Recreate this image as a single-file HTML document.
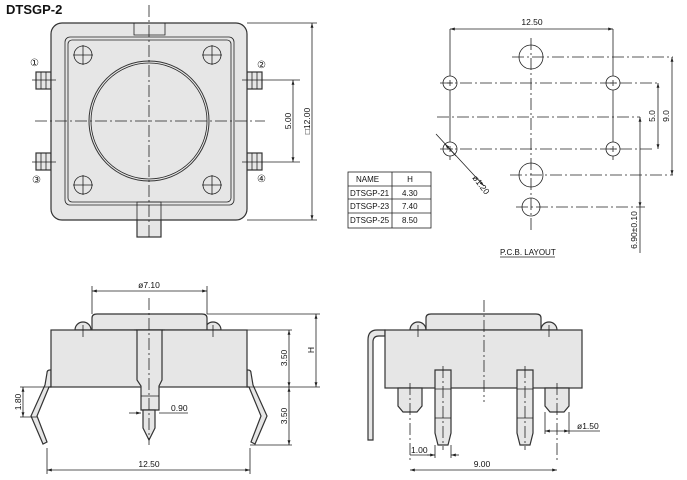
<!DOCTYPE html>
<html><head><meta charset="utf-8"><style>
html,body{margin:0;padding:0;background:#fff}
svg{display:block}
text{font-family:"Liberation Sans",sans-serif;fill:#111}
.b{fill:#e6e6e6;stroke:#333;stroke-width:1.2}
.l{fill:none;stroke:#222;stroke-width:0.8}
.c{fill:none;stroke:#222;stroke-width:0.8;stroke-dasharray:12,3,2,3}
.d{fill:none;stroke:#333;stroke-width:0.7;stroke-dasharray:4,3}
.s{font-size:8.5px}
</style></head><body>
<svg width="687" height="480" viewBox="0 0 687 480" xmlns="http://www.w3.org/2000/svg">
<defs>
<marker id="a" viewBox="0 0 10 10" refX="10" refY="5" markerWidth="6" markerHeight="6" orient="auto-start-reverse"><path d="M0,2L10,5L0,8z" fill="#222"/></marker>
</defs>
<text x="6" y="14" font-size="13" font-weight="bold">DTSGP-2</text>

<!-- TOP VIEW -->
<rect class="b" x="137" y="218" width="24" height="19"/>
<rect class="b" x="36" y="72" width="15" height="17"/><rect class="b" x="36" y="153" width="15" height="17"/>
<rect class="b" x="247" y="72" width="15" height="17"/><rect class="b" x="247" y="153" width="15" height="17"/>
<rect class="b" x="51" y="23" width="196" height="197" rx="11"/>
<path class="l" d="M134,23V35H165V23M137,220V202H161V220"/>
<rect class="l" x="65" y="37" width="169" height="168" rx="5" fill="none"/>
<rect class="l" x="68" y="40" width="163" height="162" rx="4" fill="none"/>
<circle cx="149" cy="121" r="60" fill="#e6e6e6" stroke="#333" stroke-width="1"/>
<circle cx="149" cy="121" r="58" class="l"/>
<g class="l">
<circle cx="83" cy="55" r="9"/><circle cx="212" cy="55" r="9"/><circle cx="83" cy="185" r="9"/><circle cx="212" cy="185" r="9"/>
<path d="M73,55h20M83,45v20M202,55h20M212,45v20M73,185h20M83,175v20M202,185h20M212,175v20"/>
<path d="M32,80h24M32,162h24M242,80h58M242,162h58M41,72v17M46,72v17M41,153v17M46,153v17M252,72v17M257,72v17M252,153v17M257,153v17"/>
<path d="M247,23h70M247,220h70"/>
</g>
<path class="c" d="M149,5V240M35,121H265"/>
<line class="l" x1="293" y1="80" x2="293" y2="162" marker-start="url(#a)" marker-end="url(#a)"/>
<line class="l" x1="312" y1="23" x2="312" y2="220" marker-start="url(#a)" marker-end="url(#a)"/>
<text class="s" transform="translate(291,121) rotate(-90)" text-anchor="middle">5.00</text>
<text class="s" transform="translate(310,121) rotate(-90)" text-anchor="middle">□12.00</text>
<text x="30" y="66" font-size="10">①</text><text x="257" y="68" font-size="10">②</text>
<text x="32" y="183" font-size="10">③</text><text x="257" y="182" font-size="10">④</text>

<!-- PCB LAYOUT -->
<g class="l">
<path d="M450,29V160M613,29V160"/>
<circle cx="450" cy="83" r="7" fill="#fff"/><circle cx="613" cy="83" r="7" fill="#fff"/>
<circle cx="450" cy="149" r="7" fill="#fff"/><circle cx="613" cy="149" r="7" fill="#fff"/>
<circle cx="531" cy="57" r="12"/><circle cx="531" cy="175" r="12"/><circle cx="531" cy="207" r="9"/>
<path d="M447,83h6M450,80v6M610,83h6M613,80v6M447,149h6M450,146v6M610,149h6M613,146v6"/>
</g>
<path class="c" d="M512,57H673M440,83H660M437,117H640M440,149H655M510,175H673M516,207H645M531,38V230"/>
<line class="l" x1="450" y1="29" x2="613" y2="29" marker-start="url(#a)" marker-end="url(#a)"/>
<text class="s" x="532" y="25" text-anchor="middle">12.50</text>
<line class="l" x1="658" y1="83" x2="658" y2="149" marker-start="url(#a)" marker-end="url(#a)"/>
<line class="l" x1="672" y1="57" x2="672" y2="175" marker-start="url(#a)" marker-end="url(#a)"/>
<line class="l" x1="640" y1="117" x2="640" y2="207" marker-start="url(#a)" marker-end="url(#a)"/>
<line class="l" x1="640" y1="207" x2="640" y2="253"/>
<text class="s" transform="translate(655,116) rotate(-90)" text-anchor="middle">5.0</text>
<text class="s" transform="translate(669,116) rotate(-90)" text-anchor="middle">9.0</text>
<text class="s" transform="translate(637,230) rotate(-90)" text-anchor="middle">6.90±0.10</text>
<line class="l" x1="436" y1="134" x2="484" y2="186" marker-end="url(#a)"/>
<line class="l" x1="456" y1="156" x2="445" y2="144" marker-end="url(#a)"/>
<text class="s" transform="translate(472,178) rotate(52)">ø1.20</text>
<g class="l" stroke-width="1">
<rect x="348" y="172" width="83" height="56"/>
<path d="M392,172V228M348,186H431M348,199H431M348,213H431"/>
</g>
<g font-size="8" font-family="Liberation Sans">
<text x="356" y="182">NAME</text><text x="410" y="182" text-anchor="middle">H</text>
<text x="350" y="196">DTSGP-21</text><text x="402" y="196">4.30</text>
<text x="350" y="209">DTSGP-23</text><text x="402" y="209">7.40</text>
<text x="350" y="223">DTSGP-25</text><text x="402" y="223">8.50</text>
</g>
<text x="500" y="255" font-size="8">P.C.B.  LAYOUT</text>
<line class="l" x1="500" y1="257" x2="555" y2="257"/>

<!-- FRONT VIEW -->
<g class="b">
<path d="M47,373Q47,370 50,370H51V387H49L37,416L47,442L43,444L31,416L45,385z"/>
<path d="M251,373Q251,370 248,370H247V387H249L261,416L251,442L255,444L267,416L253,385z"/>
<path d="M75,330a8,8 0 0 1 16,0z"/><path d="M205,330a8,8 0 0 1 16,0z"/>
<path d="M92,330V318Q92,314 97,314H202Q207,314 207,318V330z"/>
<rect x="51" y="330" width="196" height="57"/>
<path d="M137,330V380L141,386V410H159V386L162,380V330z"/>
<path d="M143,410V428L149,440L155,428V410z"/>
</g>
<path class="l" d="M134,330h3M162,330h3M141,396h18"/>
<path class="c" d="M149,298V445M83,325V340M213,325V340"/>
<g class="l">
<path d="M92,286V314M207,286V314M207,314H320M247,330H292M247,387H320M20,387H51M20,417H37M250,445H292M47,448V474M250,448V474M159,413H188"/>
</g>
<line class="l" x1="92" y1="291" x2="207" y2="291" marker-start="url(#a)" marker-end="url(#a)"/>
<line class="l" x1="47" y1="470" x2="250" y2="470" marker-start="url(#a)" marker-end="url(#a)"/>
<line class="l" x1="289" y1="330" x2="289" y2="387" marker-start="url(#a)" marker-end="url(#a)"/>
<line class="l" x1="289" y1="387" x2="289" y2="445" marker-start="url(#a)" marker-end="url(#a)"/>
<line class="l" x1="316" y1="314" x2="316" y2="387" marker-start="url(#a)" marker-end="url(#a)"/>
<line class="l" x1="23" y1="387" x2="23" y2="417" marker-start="url(#a)" marker-end="url(#a)"/>
<line class="l" x1="129" y1="413" x2="141" y2="413" marker-end="url(#a)"/>
<text class="s" x="149" y="288" text-anchor="middle">ø7.10</text>
<text class="s" x="149" y="467" text-anchor="middle">12.50</text>
<text class="s" transform="translate(287,358) rotate(-90)" text-anchor="middle">3.50</text>
<text class="s" transform="translate(287,416) rotate(-90)" text-anchor="middle">3.50</text>
<text class="s" transform="translate(314,350) rotate(-90)" text-anchor="middle">H</text>
<text class="s" transform="translate(21,402) rotate(-90)" text-anchor="middle">1.80</text>
<text class="s" x="171" y="411">0.90</text>

<!-- SIDE VIEW -->
<g class="b">
<path d="M385,330H377Q368,330 368,340V440H373V342Q373,336 379,336H385z"/>
<path d="M410,330a8,8 0 0 1 16,0z"/><path d="M541,330a8,8 0 0 1 16,0z"/>
<path d="M426,330V318Q426,314 431,314H536Q541,314 541,318V330z"/>
<rect x="385" y="330" width="197" height="58"/>
<path d="M398,388V406L403,412H417L422,406V388z"/>
<path d="M545,388V406L550,412H564L569,406V388z"/>
<path d="M435,370H451V433L448,445H438L435,433z"/>
<path d="M517,370H533V433L530,445H520L517,433z"/>
</g>
<path class="l" d="M435,389h16M435,418h16M517,389h16M517,418h16"/>
<path class="c" d="M484,300V402M418,325V340M549,325V340M410,383V460M557,383V460M443,366V450M525,366V450"/>
<g class="l"><path d="M545,412V434M569,412V434M569,431H600M435,445V458M451,445V458M410,455H435"/></g>
<line class="l" x1="410" y1="470" x2="557" y2="470" marker-start="url(#a)" marker-end="url(#a)"/>
<line class="l" x1="427" y1="455" x2="435" y2="455" marker-end="url(#a)"/>
<line class="l" x1="459" y1="455" x2="451" y2="455" marker-end="url(#a)"/>
<line class="l" x1="545" y1="431" x2="569" y2="431" marker-start="url(#a)" marker-end="url(#a)"/>
<text class="s" x="411" y="453">1.00</text>
<text class="s" x="482" y="467" text-anchor="middle">9.00</text>
<text class="s" x="577" y="429">ø1.50</text>
</svg>
</body></html>
